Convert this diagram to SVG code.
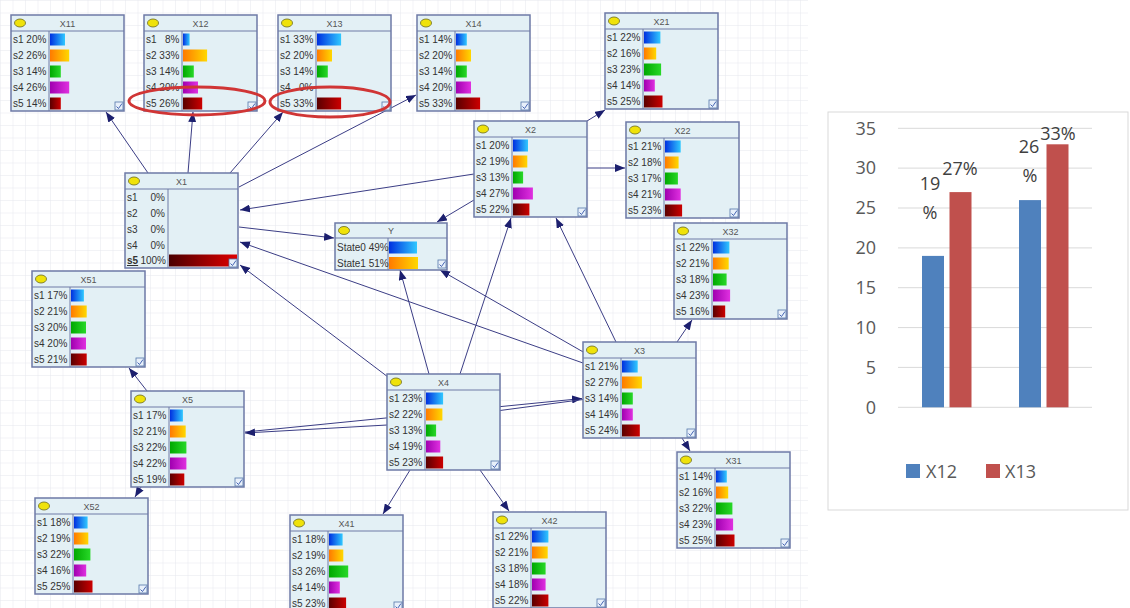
<svg xmlns="http://www.w3.org/2000/svg" xmlns:xlink="http://www.w3.org/1999/xlink" width="1130" height="608" viewBox="0 0 1130 608">
<style>
.box{fill:#e3f0f5;stroke:#6e7aa6;stroke-width:1.5}
.sep{stroke:#6e7aa6;stroke-width:1}
.ico{fill:#efe20a;stroke:#6a6a20;stroke-width:0.8}
.ttl{font-family:'Liberation Sans',Arial,sans-serif;font-size:9px;fill:#555;text-anchor:middle}
.lbl{font-family:'Liberation Sans',Arial,sans-serif;font-size:10px;fill:#333}
.chk{fill:#e8f0fa;stroke:#5577aa;stroke-width:0.8}
.edge{fill:none;stroke:#3b3d85;stroke-width:1}
.ring{fill:none;stroke:#d03535;stroke-width:3}
.ax{font-family:'Open Sans','Liberation Sans',sans-serif;font-size:18px;fill:#595959}
.dl{font-family:'Open Sans','Liberation Sans',sans-serif;font-size:18px;fill:#404040;text-anchor:middle}
.gl{stroke:#d9d9d9;stroke-width:1}
</style>
<defs>
<pattern id="grid" width="12.5" height="12.5" patternUnits="userSpaceOnUse"><path d="M12.5 0H0V12.5" fill="none" stroke="#e6e8ee" stroke-width="1"/></pattern>
<linearGradient id="b1"><stop offset="0" stop-color="#0030e0"/><stop offset="1" stop-color="#30c8ff"/></linearGradient>
<linearGradient id="b2"><stop offset="0" stop-color="#ff7a00"/><stop offset="1" stop-color="#ffd800"/></linearGradient>
<linearGradient id="b3"><stop offset="0" stop-color="#00a800"/><stop offset="1" stop-color="#28d828"/></linearGradient>
<linearGradient id="b4"><stop offset="0" stop-color="#a000b0"/><stop offset="1" stop-color="#e030e0"/></linearGradient>
<linearGradient id="b5"><stop offset="0" stop-color="#5a0000"/><stop offset="1" stop-color="#cc0000"/></linearGradient>
<linearGradient id="b5w"><stop offset="0" stop-color="#4a0000"/><stop offset="1" stop-color="#e00000"/></linearGradient>
<g id="chk"><rect class="chk" width="8" height="8"/><path d="M1.5,4.5 L3.5,6.5 L7,1.5" fill="none" stroke="#3355aa" stroke-width="0.9"/></g>
<g id="frame"><rect class="box" width="113" height="96"/><line class="sep" x1="0" y1="16" x2="113" y2="16"/><line class="sep" x1="38" y1="16" x2="38" y2="96"/><ellipse class="ico" cx="9" cy="8" rx="5.5" ry="4"/><use xlink:href="#chk" x="104" y="87"/></g>
<marker id="arr" viewBox="0 0 10 8" refX="10" refY="4" markerWidth="10" markerHeight="8" markerUnits="userSpaceOnUse" orient="auto"><path d="M0,0 L10,4 L0,8 z" fill="#1c1f6e"/></marker>
</defs>
<rect width="1130" height="608" fill="#ffffff"/>
<rect width="808" height="608" fill="url(#grid)"/>

<g id="connectors">
<path class="edge" marker-end="url(#arr)" d="M148,173 L106,112"/>
<path class="edge" marker-end="url(#arr)" d="M188,173 L193,112"/>
<path class="edge" marker-end="url(#arr)" d="M230,173 L283,112"/>
<path class="edge" marker-end="url(#arr)" d="M239,187 L416,95"/>
<path class="edge" marker-end="url(#arr)" d="M474,174 L240,210"/>
<path class="edge" marker-end="url(#arr)" d="M239,227 L334,238"/>
<path class="edge" marker-end="url(#arr)" d="M474,200 L437,222"/>
<path class="edge" marker-end="url(#arr)" d="M583,363 L240,242"/>
<path class="edge" marker-end="url(#arr)" d="M388,377 L240,265"/>
<path class="edge" marker-end="url(#arr)" d="M429,374 L400,270"/>
<path class="edge" marker-end="url(#arr)" d="M585,353 L440,270"/>
<path class="edge" marker-end="url(#arr)" d="M460,374 L511,218"/>
<path class="edge" marker-end="url(#arr)" d="M616,342 L556,218"/>
<path class="edge" marker-end="url(#arr)" d="M587,121 L605,110"/>
<path class="edge" marker-end="url(#arr)" d="M587,168 L625,168"/>
<path class="edge" marker-end="url(#arr)" d="M677,342 L692,320"/>
<path class="edge" marker-end="url(#arr)" d="M682,438 L690,451"/>
<path class="edge" marker-end="url(#arr)" d="M245,432 L582,398.5"/>
<path class="edge" marker-end="url(#arr)" d="M583,399.5 L500,410.5 L387,425 L245,433"/>
<path class="edge" marker-end="url(#arr)" d="M147,391 L129,368"/>
<path class="edge" marker-end="url(#arr)" d="M141,487 L135,497"/>
<path class="edge" marker-end="url(#arr)" d="M410,470 L383,514"/>
<path class="edge" marker-end="url(#arr)" d="M480,470 L509,511"/>
</g>

<g id="X11" transform="translate(11,15)"><use xlink:href="#frame"/><text class="ttl" x="56.5" y="11.5">X11</text>
<text class="lbl" x="2" y="28">s1 20%</text><rect x="39" y="18.5" width="15" height="12" fill="url(#b1)"/>
<text class="lbl" x="2" y="44">s2 26%</text><rect x="39" y="34.5" width="19.2" height="12" fill="url(#b2)"/>
<text class="lbl" x="2" y="60">s3 14%</text><rect x="39" y="50.5" width="10.8" height="12" fill="url(#b3)"/>
<text class="lbl" x="2" y="76">s4 26%</text><rect x="39" y="66.5" width="19.2" height="12" fill="url(#b4)"/>
<text class="lbl" x="2" y="92">s5 14%</text><rect x="39" y="82.5" width="10.8" height="12" fill="url(#b5)"/></g>

<g id="X12" transform="translate(144,15)"><use xlink:href="#frame"/><text class="ttl" x="56.5" y="11.5">X12</text>
<text class="lbl" x="2" y="28" xml:space="preserve">s1   8%</text><rect x="39" y="18.5" width="6.6" height="12" fill="url(#b1)"/>
<text class="lbl" x="2" y="44">s2 33%</text><rect x="39" y="34.5" width="24.1" height="12" fill="url(#b2)"/>
<text class="lbl" x="2" y="60">s3 14%</text><rect x="39" y="50.5" width="10.8" height="12" fill="url(#b3)"/>
<text class="lbl" x="2" y="76">s4 20%</text><rect x="39" y="66.5" width="15" height="12" fill="url(#b4)"/>
<text class="lbl" x="2" y="92">s5 26%</text><rect x="39" y="82.5" width="19.2" height="12" fill="url(#b5)"/></g>

<g id="X13" transform="translate(278,15)"><use xlink:href="#frame"/><text class="ttl" x="56.5" y="11.5">X13</text>
<text class="lbl" x="2" y="28">s1 33%</text><rect x="39" y="18.5" width="24.1" height="12" fill="url(#b1)"/>
<text class="lbl" x="2" y="44">s2 20%</text><rect x="39" y="34.5" width="15" height="12" fill="url(#b2)"/>
<text class="lbl" x="2" y="60">s3 14%</text><rect x="39" y="50.5" width="10.8" height="12" fill="url(#b3)"/>
<text class="lbl" x="2" y="76" xml:space="preserve">s4   0%</text>
<text class="lbl" x="2" y="92">s5 33%</text><rect x="39" y="82.5" width="24.1" height="12" fill="url(#b5)"/></g>

<g id="X14" transform="translate(417,15)"><use xlink:href="#frame"/><text class="ttl" x="56.5" y="11.5">X14</text>
<text class="lbl" x="2" y="28">s1 14%</text><rect x="39" y="18.5" width="10.8" height="12" fill="url(#b1)"/>
<text class="lbl" x="2" y="44">s2 20%</text><rect x="39" y="34.5" width="15" height="12" fill="url(#b2)"/>
<text class="lbl" x="2" y="60">s3 14%</text><rect x="39" y="50.5" width="10.8" height="12" fill="url(#b3)"/>
<text class="lbl" x="2" y="76">s4 20%</text><rect x="39" y="66.5" width="15" height="12" fill="url(#b4)"/>
<text class="lbl" x="2" y="92">s5 33%</text><rect x="39" y="82.5" width="24.1" height="12" fill="url(#b5)"/></g>

<g id="X21" transform="translate(605,13)"><use xlink:href="#frame"/><text class="ttl" x="56.5" y="11.5">X21</text>
<text class="lbl" x="2" y="28">s1 22%</text><rect x="39" y="18.5" width="16.4" height="12" fill="url(#b1)"/>
<text class="lbl" x="2" y="44">s2 16%</text><rect x="39" y="34.5" width="12.2" height="12" fill="url(#b2)"/>
<text class="lbl" x="2" y="60">s3 23%</text><rect x="39" y="50.5" width="17.1" height="12" fill="url(#b3)"/>
<text class="lbl" x="2" y="76">s4 14%</text><rect x="39" y="66.5" width="10.8" height="12" fill="url(#b4)"/>
<text class="lbl" x="2" y="92">s5 25%</text><rect x="39" y="82.5" width="18.5" height="12" fill="url(#b5)"/></g>

<g id="X2" transform="translate(474,121)"><use xlink:href="#frame"/><text class="ttl" x="56.5" y="11.5">X2</text>
<text class="lbl" x="2" y="28">s1 20%</text><rect x="39" y="18.5" width="15" height="12" fill="url(#b1)"/>
<text class="lbl" x="2" y="44">s2 19%</text><rect x="39" y="34.5" width="14.3" height="12" fill="url(#b2)"/>
<text class="lbl" x="2" y="60">s3 13%</text><rect x="39" y="50.5" width="10.1" height="12" fill="url(#b3)"/>
<text class="lbl" x="2" y="76">s4 27%</text><rect x="39" y="66.5" width="19.9" height="12" fill="url(#b4)"/>
<text class="lbl" x="2" y="92">s5 22%</text><rect x="39" y="82.5" width="16.4" height="12" fill="url(#b5)"/></g>

<g id="X22" transform="translate(626,122)"><use xlink:href="#frame"/><text class="ttl" x="56.5" y="11.5">X22</text>
<text class="lbl" x="2" y="28">s1 21%</text><rect x="39" y="18.5" width="15.7" height="12" fill="url(#b1)"/>
<text class="lbl" x="2" y="44">s2 18%</text><rect x="39" y="34.5" width="13.6" height="12" fill="url(#b2)"/>
<text class="lbl" x="2" y="60">s3 17%</text><rect x="39" y="50.5" width="12.9" height="12" fill="url(#b3)"/>
<text class="lbl" x="2" y="76">s4 21%</text><rect x="39" y="66.5" width="15.7" height="12" fill="url(#b4)"/>
<text class="lbl" x="2" y="92">s5 23%</text><rect x="39" y="82.5" width="17.1" height="12" fill="url(#b5)"/></g>

<g id="X1" transform="translate(125,173)"><rect class="box" width="113" height="95"/><line class="sep" x1="0" y1="16" x2="113" y2="16"/><line class="sep" x1="43" y1="16" x2="43" y2="95"/><ellipse class="ico" cx="9" cy="8" rx="5.5" ry="4"/><text class="ttl" x="56.5" y="11.5">X1</text>
<text class="lbl" x="2" y="28">s1</text><text class="lbl" x="40" y="28" text-anchor="end">0%</text>
<text class="lbl" x="2" y="44">s2</text><text class="lbl" x="40" y="44" text-anchor="end">0%</text>
<text class="lbl" x="2" y="60">s3</text><text class="lbl" x="40" y="60" text-anchor="end">0%</text>
<text class="lbl" x="2" y="76">s4</text><text class="lbl" x="40" y="76" text-anchor="end">0%</text>
<text class="lbl" x="2" y="91" text-decoration="underline" font-weight="bold">s5</text><text class="lbl" x="41" y="91" text-anchor="end">100%</text>
<rect x="44" y="81.5" width="68" height="12" fill="url(#b5w)"/><use xlink:href="#chk" x="104" y="86"/></g>

<g id="Y" transform="translate(335,223)"><rect class="box" width="112" height="47"/><line class="sep" x1="0" y1="15" x2="112" y2="15"/><line class="sep" x1="53" y1="15" x2="53" y2="47"/><ellipse class="ico" cx="9" cy="7.5" rx="5.5" ry="4"/><text class="ttl" x="56" y="11">Y</text>
<text class="lbl" x="2" y="28" font-size="9.5">State0 49%</text><rect x="54" y="18.5" width="28" height="12" fill="url(#b1)"/>
<text class="lbl" x="2" y="44" font-size="9.5">State1 51%</text><rect x="54" y="34" width="29" height="12" fill="url(#b2)"/>
<use xlink:href="#chk" x="103" y="37"/></g>

<g id="X32" transform="translate(674,223)"><use xlink:href="#frame"/><text class="ttl" x="56.5" y="11.5">X32</text>
<text class="lbl" x="2" y="28">s1 22%</text><rect x="39" y="18.5" width="16.4" height="12" fill="url(#b1)"/>
<text class="lbl" x="2" y="44">s2 21%</text><rect x="39" y="34.5" width="15.7" height="12" fill="url(#b2)"/>
<text class="lbl" x="2" y="60">s3 18%</text><rect x="39" y="50.5" width="13.6" height="12" fill="url(#b3)"/>
<text class="lbl" x="2" y="76">s4 23%</text><rect x="39" y="66.5" width="17.1" height="12" fill="url(#b4)"/>
<text class="lbl" x="2" y="92">s5 16%</text><rect x="39" y="82.5" width="12.2" height="12" fill="url(#b5)"/></g>

<g id="X51" transform="translate(32,271)"><use xlink:href="#frame"/><text class="ttl" x="56.5" y="11.5">X51</text>
<text class="lbl" x="2" y="28">s1 17%</text><rect x="39" y="18.5" width="12.9" height="12" fill="url(#b1)"/>
<text class="lbl" x="2" y="44">s2 21%</text><rect x="39" y="34.5" width="15.7" height="12" fill="url(#b2)"/>
<text class="lbl" x="2" y="60">s3 20%</text><rect x="39" y="50.5" width="15" height="12" fill="url(#b3)"/>
<text class="lbl" x="2" y="76">s4 20%</text><rect x="39" y="66.5" width="15" height="12" fill="url(#b4)"/>
<text class="lbl" x="2" y="92">s5 21%</text><rect x="39" y="82.5" width="15.7" height="12" fill="url(#b5)"/></g>

<g id="X5" transform="translate(131,391)"><use xlink:href="#frame"/><text class="ttl" x="56.5" y="11.5">X5</text>
<text class="lbl" x="2" y="28">s1 17%</text><rect x="39" y="18.5" width="12.9" height="12" fill="url(#b1)"/>
<text class="lbl" x="2" y="44">s2 21%</text><rect x="39" y="34.5" width="15.7" height="12" fill="url(#b2)"/>
<text class="lbl" x="2" y="60">s3 22%</text><rect x="39" y="50.5" width="16.4" height="12" fill="url(#b3)"/>
<text class="lbl" x="2" y="76">s4 22%</text><rect x="39" y="66.5" width="16.4" height="12" fill="url(#b4)"/>
<text class="lbl" x="2" y="92">s5 19%</text><rect x="39" y="82.5" width="14.3" height="12" fill="url(#b5)"/></g>

<g id="X4" transform="translate(387,374)"><use xlink:href="#frame"/><text class="ttl" x="56.5" y="11.5">X4</text>
<text class="lbl" x="2" y="28">s1 23%</text><rect x="39" y="18.5" width="17.1" height="12" fill="url(#b1)"/>
<text class="lbl" x="2" y="44">s2 22%</text><rect x="39" y="34.5" width="16.4" height="12" fill="url(#b2)"/>
<text class="lbl" x="2" y="60">s3 13%</text><rect x="39" y="50.5" width="10.1" height="12" fill="url(#b3)"/>
<text class="lbl" x="2" y="76">s4 19%</text><rect x="39" y="66.5" width="14.3" height="12" fill="url(#b4)"/>
<text class="lbl" x="2" y="92">s5 23%</text><rect x="39" y="82.5" width="17.1" height="12" fill="url(#b5)"/></g>

<g id="X3" transform="translate(583,342)"><use xlink:href="#frame"/><text class="ttl" x="56.5" y="11.5">X3</text>
<text class="lbl" x="2" y="28">s1 21%</text><rect x="39" y="18.5" width="15.7" height="12" fill="url(#b1)"/>
<text class="lbl" x="2" y="44">s2 27%</text><rect x="39" y="34.5" width="19.9" height="12" fill="url(#b2)"/>
<text class="lbl" x="2" y="60">s3 14%</text><rect x="39" y="50.5" width="10.8" height="12" fill="url(#b3)"/>
<text class="lbl" x="2" y="76">s4 14%</text><rect x="39" y="66.5" width="10.8" height="12" fill="url(#b4)"/>
<text class="lbl" x="2" y="92">s5 24%</text><rect x="39" y="82.5" width="17.8" height="12" fill="url(#b5)"/></g>

<g id="X31" transform="translate(677,452)"><use xlink:href="#frame"/><text class="ttl" x="56.5" y="11.5">X31</text>
<text class="lbl" x="2" y="28">s1 14%</text><rect x="39" y="18.5" width="10.8" height="12" fill="url(#b1)"/>
<text class="lbl" x="2" y="44">s2 16%</text><rect x="39" y="34.5" width="12.2" height="12" fill="url(#b2)"/>
<text class="lbl" x="2" y="60">s3 22%</text><rect x="39" y="50.5" width="16.4" height="12" fill="url(#b3)"/>
<text class="lbl" x="2" y="76">s4 23%</text><rect x="39" y="66.5" width="17.1" height="12" fill="url(#b4)"/>
<text class="lbl" x="2" y="92">s5 25%</text><rect x="39" y="82.5" width="18.5" height="12" fill="url(#b5)"/></g>

<g id="X52" transform="translate(35,498)"><use xlink:href="#frame"/><text class="ttl" x="56.5" y="11.5">X52</text>
<text class="lbl" x="2" y="28">s1 18%</text><rect x="39" y="18.5" width="13.6" height="12" fill="url(#b1)"/>
<text class="lbl" x="2" y="44">s2 19%</text><rect x="39" y="34.5" width="14.3" height="12" fill="url(#b2)"/>
<text class="lbl" x="2" y="60">s3 22%</text><rect x="39" y="50.5" width="16.4" height="12" fill="url(#b3)"/>
<text class="lbl" x="2" y="76">s4 16%</text><rect x="39" y="66.5" width="12.2" height="12" fill="url(#b4)"/>
<text class="lbl" x="2" y="92">s5 25%</text><rect x="39" y="82.5" width="18.5" height="12" fill="url(#b5)"/></g>

<g id="X41" transform="translate(290,515)"><use xlink:href="#frame"/><text class="ttl" x="56.5" y="11.5">X41</text>
<text class="lbl" x="2" y="28">s1 18%</text><rect x="39" y="18.5" width="13.6" height="12" fill="url(#b1)"/>
<text class="lbl" x="2" y="44">s2 19%</text><rect x="39" y="34.5" width="14.3" height="12" fill="url(#b2)"/>
<text class="lbl" x="2" y="60">s3 26%</text><rect x="39" y="50.5" width="19.2" height="12" fill="url(#b3)"/>
<text class="lbl" x="2" y="76">s4 14%</text><rect x="39" y="66.5" width="10.8" height="12" fill="url(#b4)"/>
<text class="lbl" x="2" y="92">s5 23%</text><rect x="39" y="82.5" width="17.1" height="12" fill="url(#b5)"/></g>

<g id="X42" transform="translate(493,512)"><use xlink:href="#frame"/><text class="ttl" x="56.5" y="11.5">X42</text>
<text class="lbl" x="2" y="28">s1 22%</text><rect x="39" y="18.5" width="16.4" height="12" fill="url(#b1)"/>
<text class="lbl" x="2" y="44">s2 21%</text><rect x="39" y="34.5" width="15.7" height="12" fill="url(#b2)"/>
<text class="lbl" x="2" y="60">s3 18%</text><rect x="39" y="50.5" width="13.6" height="12" fill="url(#b3)"/>
<text class="lbl" x="2" y="76">s4 18%</text><rect x="39" y="66.5" width="13.6" height="12" fill="url(#b4)"/>
<text class="lbl" x="2" y="92">s5 22%</text><rect x="39" y="82.5" width="16.4" height="12" fill="url(#b5)"/></g>

<g id="highlights">
<ellipse class="ring" cx="197" cy="101" rx="68" ry="14"/>
<ellipse class="ring" cx="330" cy="102" rx="60" ry="15"/>
</g>

<g id="chart">
<rect x="828" y="112" width="300" height="398" fill="#ffffff" stroke="#d9d9d9" stroke-width="1"/>
<line class="gl" x1="898" y1="128.3" x2="1092" y2="128.3"/>
<line class="gl" x1="898" y1="168.1" x2="1092" y2="168.1"/>
<line class="gl" x1="898" y1="208" x2="1092" y2="208"/>
<line class="gl" x1="898" y1="247.9" x2="1092" y2="247.9"/>
<line class="gl" x1="898" y1="287.7" x2="1092" y2="287.7"/>
<line class="gl" x1="898" y1="327.6" x2="1092" y2="327.6"/>
<line class="gl" x1="898" y1="367.4" x2="1092" y2="367.4"/>
<line class="gl" x1="898" y1="407.3" x2="1092" y2="407.3"/>
<text class="ax" x="876" y="134.5" text-anchor="end">35</text>
<text class="ax" x="876" y="174.3" text-anchor="end">30</text>
<text class="ax" x="876" y="214.2" text-anchor="end">25</text>
<text class="ax" x="876" y="254.1" text-anchor="end">20</text>
<text class="ax" x="876" y="293.9" text-anchor="end">15</text>
<text class="ax" x="876" y="333.8" text-anchor="end">10</text>
<text class="ax" x="876" y="373.6" text-anchor="end">5</text>
<text class="ax" x="876" y="413.5" text-anchor="end">0</text>
<rect x="922" y="255.9" width="22" height="151.4" fill="#4f81bd"/>
<rect x="949.5" y="192.1" width="22" height="215.2" fill="#c0504d"/>
<rect x="1019" y="200.1" width="22" height="207.2" fill="#4f81bd"/>
<rect x="1046.5" y="144.3" width="22" height="263" fill="#c0504d"/>
<text class="dl" x="930" y="190">19</text>
<text class="dl" x="930" y="219">%</text>
<text class="dl" x="960" y="175">27%</text>
<text class="dl" x="1029" y="153">26</text>
<text class="dl" x="1030" y="182">%</text>
<text class="dl" x="1058" y="140">33%</text>
<rect x="906" y="464" width="14" height="14" fill="#4f81bd"/>
<text class="ax" x="926" y="478">X12</text>
<rect x="986" y="464" width="14" height="14" fill="#c0504d"/>
<text class="ax" x="1005" y="478">X13</text>
</g>
</svg>
